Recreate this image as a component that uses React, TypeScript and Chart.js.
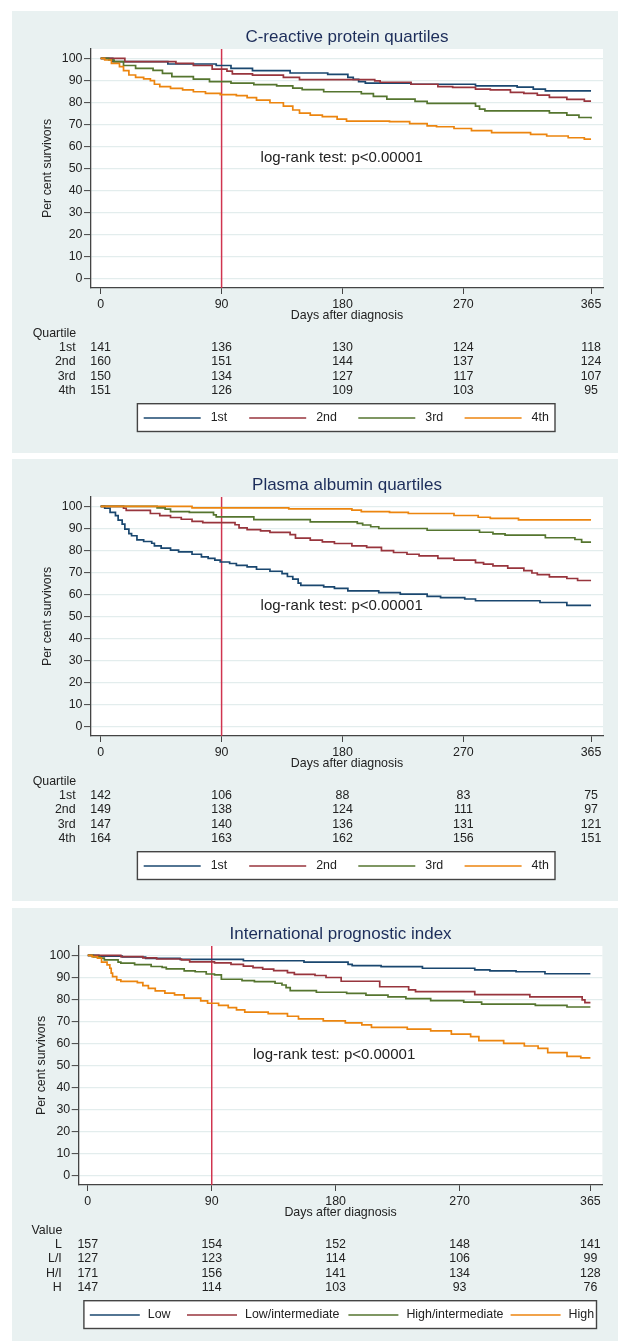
import { useEffect, useRef } from 'react';
import { Chart, registerables } from 'chart.js';

Chart.register(...registerables);

const FONT = '"Liberation Sans", Arimo, Arial, Helvetica, sans-serif';
const BG = '#e9f1f1';
const GRID = '#e3eded';
const AXIS = '#444444';
const TEXT = '#222222';
const TITLE = '#1c2d5a';
const REFLINE = '#d0344f';
const COLORS = ['#1a476f', '#98353d', '#55752f', '#ec850f'];

const xTicks = [0, 90, 180, 270, 365];
const yTicks = [0, 10, 20, 30, 40, 50, 60, 70, 80, 90, 100];
const refDay = 90;
const xTitle = 'Days after diagnosis';
const yTitle = 'Per cent survivors';
const testText = 'log-rank test: p<0.00001';
const testY = 55;

// ---------- Panel 1: C-reactive protein ----------
const crpTitle = 'C-reactive protein quartiles';
const crpHeader = 'Quartile';
const crpGroups = ['1st', '2nd', '3rd', '4th'];
const crpQ1 = [[0,100],[9,98.6],[50,97.5],[86,96.8],[97,95.5],[113,94.5],[141,93.4],[169,92.8],[184,91.4],[188,90.5],[192,89.5],[197,88.8],[231,88.3],[279,87.6],[310,87],[322,86.1],[331,85.3],[365,85.3]];
const crpQ2 = [[0,100],[18,98.6],[56,97.8],[69,96.8],[83,95.2],[94,94.3],[98,93],[113,92.4],[136,91.4],[148,90.4],[204,89.8],[208,89.2],[231,88.3],[251,87.2],[262,86.9],[279,86.1],[290,85.7],[305,84.6],[315,84.2],[325,83.4],[334,82.3],[347,81.4],[360,80.6],[365,80.6]];
const crpQ3 = [[0,100],[6,99.3],[10,98.6],[17,96.8],[26,95.5],[39,94.6],[46,93.2],[53,91.8],[69,90.6],[81,89.5],[97,88.8],[114,88.1],[131,87.6],[143,86.5],[150,85.9],[166,84.9],[194,84],[203,82.8],[213,81.5],[234,80.5],[243,79.6],[279,78.4],[282,77],[286,76.2],[334,75.3],[347,74.3],[356,73.2],[365,72.8]];
const crpQ4 = [[0,100],[3,99.3],[8,97.8],[14,96.3],[17,94.5],[21,92.5],[26,91.4],[32,90.7],[37,89.9],[40,88.3],[44,87.2],[52,86.4],[61,85.7],[69,84.9],[78,84.2],[89,83.6],[101,83.1],[109,82.2],[116,81.1],[126,79.9],[136,78.4],[143,76.6],[148,75.2],[156,74.3],[165,73.6],[176,72.5],[183,71.6],[215,71.3],[230,70.4],[243,69.4],[250,69],[263,68.2],[276,67.2],[291,66.3],[320,65.5],[332,64.8],[348,64],[360,63.4],[365,63.4]];
const crpRisk1st = [141, 136, 130, 124, 118];
const crpRisk2nd = [160, 151, 144, 137, 124];
const crpRisk3rd = [150, 134, 127, 117, 107];
const crpRisk4th = [151, 126, 109, 103, 95];

// ---------- Panel 2: Plasma albumin ----------
const albTitle = 'Plasma albumin quartiles';
const albHeader = 'Quartile';
const albGroups = ['1st', '2nd', '3rd', '4th'];
const albQ1 = [[0,100],[3,99.2],[7,97.3],[11,95.8],[13,93.8],[16,92],[18,89.7],[21,87.7],[23,86.7],[27,84.8],[32,84.1],[38,83.3],[40,82.1],[45,81.1],[52,80.2],[58,79.4],[68,78.3],[75,77.1],[80,76.4],[85,75.6],[89,74.8],[96,74.1],[101,73.3],[109,72.6],[116,71.5],[126,70.6],[135,69.5],[139,68.2],[143,67],[147,65.2],[149,64.2],[166,63.5],[174,62.8],[184,61.7],[207,60.9],[223,60.2],[243,59.2],[253,58.6],[271,58],[279,57.2],[327,56.4],[347,55.1],[365,55.1]];
const albQ2 = [[0,100],[17,99.2],[19,98.2],[37,96.8],[44,95.8],[52,95],[60,94.2],[68,93.2],[76,92.7],[100,91.7],[103,90.3],[109,89.5],[119,88.9],[126,88.2],[141,87.2],[145,85.6],[156,84.7],[165,83.9],[174,83.2],[187,82.1],[198,81.4],[209,80],[218,79.1],[228,78.3],[237,77.6],[251,76.4],[263,75.6],[279,74.5],[285,73.8],[292,73],[303,72],[315,70.9],[321,69.8],[325,69.1],[334,68],[347,67.3],[355,66.4],[365,66.4]];
const albQ3 = [[0,100],[42,99.4],[48,98.8],[52,97.7],[66,97.3],[84,96.2],[86,95.3],[114,94],[156,93],[191,92.3],[195,91.6],[201,90.8],[207,90],[243,89.2],[282,88.3],[292,87.6],[301,87],[331,85.8],[353,85],[358,83.8],[365,83.8]];
const albQ4 = [[0,100],[68,99.4],[140,98.9],[187,98.3],[194,97.7],[215,97.3],[229,96.8],[263,95.9],[281,95.1],[290,94.6],[311,93.9],[365,93.9]];
const albRisk1st = [142, 106, 88, 83, 75];
const albRisk2nd = [149, 138, 124, 111, 97];
const albRisk3rd = [147, 140, 136, 131, 121];
const albRisk4th = [164, 163, 162, 156, 151];

// ---------- Panel 3: International prognostic index ----------
const ipiTitle = 'International prognostic index';
const ipiHeader = 'Value';
const ipiRowLabels = ['L', 'L/I', 'H/I', 'H'];
const ipiGroups = ['Low', 'Low/intermediate', 'High/intermediate', 'High'];
const ipiLow = [[0,100],[8,99.7],[25,99.3],[42,98.7],[67,98.2],[113,97.6],[157,97],[189,96],[192,95.4],[213,94.9],[243,94.2],[281,93.5],[292,93],[311,92.6],[332,91.7],[365,91.7]];
const ipiLowInt = [[0,100],[24,99.5],[40,98.9],[50,98.4],[68,98],[74,97.1],[92,96.6],[104,96],[113,95.2],[120,94.5],[127,93.8],[135,93.1],[145,92.2],[150,91.4],[165,90.9],[173,90],[184,88.3],[212,85.8],[233,84.4],[238,83.6],[281,82.2],[321,81.2],[359,79.8],[361,78.6],[365,78.6]];
const ipiHighInt = [[0,100],[4,99.4],[9,98.8],[12,98],[22,97],[24,96.5],[34,95.8],[46,95],[54,94.6],[57,93.9],[70,93],[78,92.6],[86,91.6],[92,91.2],[97,89.2],[112,88.6],[121,88.1],[136,87.4],[141,86.6],[144,85.4],[147,84],[166,83.3],[188,82.8],[202,82],[218,81.2],[231,80.4],[249,79.5],[273,78.8],[286,77.9],[325,77.3],[348,76.6],[365,76.6]];
const ipiHigh = [[0,100],[3,99.5],[7,98.8],[10,97],[14,95.7],[16,94.2],[17,92],[18,90.4],[21,88.9],[24,88.2],[36,87.7],[40,86.3],[44,85.1],[49,83.9],[56,82.9],[63,82.1],[70,80.6],[82,79.4],[87,78.3],[95,77.3],[102,76.3],[108,75.3],[114,74.3],[131,73.6],[145,72.4],[153,71.2],[171,70.3],[187,69.4],[199,68.5],[206,67.4],[232,66.6],[249,65.8],[264,64.3],[278,63.2],[284,61.3],[302,60.1],[317,58.9],[327,57.8],[334,55.9],[348,54.2],[358,53.5],[365,53.5]];
const ipiRiskL = [157, 154, 152, 148, 141];
const ipiRiskLI = [127, 123, 114, 106, 99];
const ipiRiskHI = [171, 156, 141, 134, 128];
const ipiRiskH = [147, 114, 103, 93, 76];

type Panel = {
  title: string;
  header: string;
  rowLabels: string[];
  legendLabels: string[];
  series: number[][][];
  risk: number[][];
  top: number;
  height: number;
  xMin: number;
  xMax: number;
  yAxisWidth: number;
  padRight: number;
  yTitleX: number;
  headerLeft: number;
  rowLabelRight: number;
  legendBox: [number, number];
  legendStarts: number[];
  legendLine: number;
  legendTextGap: number;
  testX: number;
};

const panels: Panel[] = [
  {
    title: crpTitle, header: crpHeader, rowLabels: crpGroups, legendLabels: crpGroups,
    series: [crpQ1, crpQ2, crpQ3, crpQ4],
    risk: [crpRisk1st, crpRisk2nd, crpRisk3rd, crpRisk4th],
    top: 11, height: 442, xMin: -7.2, xMax: 373.9, yAxisWidth: 79, padRight: 15,
    yTitleX: 36, headerLeft: 20.7, rowLabelRight: 63.6,
    legendBox: [125.4, 543], legendStarts: [131.7, 237.2, 346.3, 452.6], legendLine: 57, legendTextGap: 67,
    testX: 119,
  },
  {
    title: albTitle, header: albHeader, rowLabels: albGroups, legendLabels: albGroups,
    series: [albQ1, albQ2, albQ3, albQ4],
    risk: [albRisk1st, albRisk2nd, albRisk3rd, albRisk4th],
    top: 459, height: 442, xMin: -7.2, xMax: 373.9, yAxisWidth: 79, padRight: 15,
    yTitleX: 36, headerLeft: 20.7, rowLabelRight: 63.6,
    legendBox: [125.4, 543], legendStarts: [131.7, 237.2, 346.3, 452.6], legendLine: 57, legendTextGap: 67,
    testX: 119,
  },
  {
    title: ipiTitle, header: ipiHeader, rowLabels: ipiRowLabels, legendLabels: ipiGroups,
    series: [ipiLow, ipiLowInt, ipiHighInt, ipiHigh],
    risk: [ipiRiskL, ipiRiskLI, ipiRiskHI, ipiRiskH],
    top: 908, height: 433, xMin: -6.6, xMax: 373.7, yAxisWidth: 66.7, padRight: 15.6,
    yTitleX: 30, headerLeft: 19.5, rowLabelRight: 49.8,
    legendBox: [71.9, 584.5], legendStarts: [77.8, 175, 336.4, 498.6], legendLine: 50, legendTextGap: 58,
    testX: 120,
  },
];

const CHART_TOP = 38;
const CHART_BOTTOM = 277;

function decor(p: Panel) {
  return {
    id: 'panelDecor',
    beforeDraw(chart: any) {
      const { ctx, chartArea: a, width, height } = chart;
      ctx.save();
      ctx.fillStyle = BG;
      ctx.fillRect(0, 0, width, height);
      ctx.fillStyle = '#ffffff';
      ctx.fillRect(a.left, a.top, a.right - a.left, a.bottom - a.top);
      ctx.restore();
    },
    beforeDatasetsDraw(chart: any) {
      const { ctx, chartArea: a } = chart;
      const x = chart.scales.x.getPixelForValue(refDay);
      ctx.save();
      ctx.strokeStyle = REFLINE;
      ctx.lineWidth = 1.5;
      ctx.beginPath();
      ctx.moveTo(x, a.top);
      ctx.lineTo(x, a.bottom);
      ctx.stroke();
      ctx.restore();
    },
    afterDraw(chart: any) {
      const { ctx, chartArea: a } = chart;
      const xs = chart.scales.x;
      const ys = chart.scales.y;
      const cx = (a.left + a.right) / 2;
      ctx.save();
      ctx.textBaseline = 'middle';

      ctx.font = `17px ${FONT}`;
      ctx.fillStyle = TITLE;
      ctx.textAlign = 'center';
      ctx.fillText(p.title, cx, 26);

      ctx.font = `12.4px ${FONT}`;
      ctx.fillStyle = TEXT;
      ctx.fillText(xTitle, cx, 305);

      ctx.save();
      ctx.translate(p.yTitleX, (a.top + a.bottom) / 2);
      ctx.rotate(-Math.PI / 2);
      ctx.fillText(yTitle, 0, 0);
      ctx.restore();

      ctx.font = `15px ${FONT}`;
      ctx.textAlign = 'left';
      ctx.fillText(testText, xs.getPixelForValue(p.testX), ys.getPixelForValue(testY));

      ctx.font = `12.4px ${FONT}`;
      ctx.textAlign = 'left';
      ctx.fillText(p.header, p.headerLeft, 322.3);
      p.rowLabels.forEach((lab, r) => {
        const y = 336.7 + r * 14.35;
        ctx.textAlign = 'right';
        ctx.fillText(lab, p.rowLabelRight, y);
        ctx.textAlign = 'center';
        p.risk[r].forEach((n, j) => {
          ctx.fillText(String(n), xs.getPixelForValue(xTicks[j]), y);
        });
      });

      const [bl, br] = p.legendBox;
      const bt = 392.7;
      const bb = 420.5;
      ctx.fillStyle = '#ffffff';
      ctx.fillRect(bl, bt, br - bl, bb - bt);
      ctx.strokeStyle = AXIS;
      ctx.lineWidth = 1.4;
      ctx.strokeRect(bl, bt, br - bl, bb - bt);
      const ly = 407;
      p.legendLabels.forEach((lab, i) => {
        const sx = p.legendStarts[i];
        ctx.strokeStyle = COLORS[i];
        ctx.lineWidth = 1.7;
        ctx.beginPath();
        ctx.moveTo(sx, ly);
        ctx.lineTo(sx + p.legendLine, ly);
        ctx.stroke();
        ctx.fillStyle = TEXT;
        ctx.textAlign = 'left';
        ctx.fillText(lab, sx + p.legendTextGap, ly);
      });
      ctx.restore();
    },
  };
}

function PanelChart({ p }: { p: Panel }) {
  const ref = useRef<HTMLCanvasElement | null>(null);
  useEffect(() => {
    const canvas = ref.current;
    if (!canvas) return;
    const n = p.series.length;
    const chart = new Chart(canvas, {
      type: 'line',
      data: {
        datasets: p.series.map((s, i) => ({
          label: p.legendLabels[i],
          data: s.map(([x, y]) => ({ x, y })),
          borderColor: COLORS[i],
          backgroundColor: COLORS[i],
          borderWidth: 1.7,
          pointRadius: 0,
          pointHoverRadius: 0,
          stepped: 'before',
          fill: false,
          order: n - 1 - i,
        })),
      },
      options: {
        responsive: false,
        maintainAspectRatio: false,
        animation: false,
        devicePixelRatio: 1,
        events: [],
        layout: { autoPadding: false, padding: { top: CHART_TOP, right: p.padRight, left: 0, bottom: 0 } },
        plugins: {
          legend: { display: false },
          tooltip: { enabled: false },
          title: { display: false },
        },
        scales: {
          x: {
            type: 'linear',
            min: p.xMin,
            max: p.xMax,
            afterBuildTicks: (s: any) => {
              s.ticks = xTicks.map((v) => ({ value: v }));
            },
            afterFit: (s: any) => {
              s.height = p.height - CHART_BOTTOM;
            },
            ticks: {
              autoSkip: false,
              maxRotation: 0,
              minRotation: 0,
              padding: 3,
              color: TEXT,
              font: { size: 12.4, family: FONT },
              callback: (v: any) => String(v),
            },
            grid: { drawOnChartArea: false, drawTicks: true, tickLength: 6, tickColor: AXIS, tickWidth: 1 },
            border: { display: true, color: AXIS, width: 1.3 },
          },
          y: {
            type: 'linear',
            min: -4.2,
            max: 104.3,
            afterBuildTicks: (s: any) => {
              s.ticks = yTicks.map((v) => ({ value: v }));
            },
            afterFit: (s: any) => {
              s.width = p.yAxisWidth;
            },
            ticks: {
              autoSkip: false,
              padding: 1.5,
              color: TEXT,
              font: { size: 12.4, family: FONT },
              callback: (v: any) => String(v),
            },
            grid: { color: GRID, lineWidth: 1.2, drawTicks: true, tickLength: 7, tickColor: AXIS, tickWidth: 1 },
            border: { display: true, color: AXIS, width: 1.3 },
          },
        },
      },
      plugins: [decor(p)],
    } as any);
    return () => chart.destroy();
  }, [p]);
  return (
    <canvas
      ref={ref}
      width={606}
      height={p.height}
      style={{ position: 'absolute', left: 12, top: p.top, width: 606, height: p.height, display: 'block' }}
    />
  );
}

export default function App() {
  useEffect(() => {
    document.body.style.margin = '0';
    document.body.style.background = '#ffffff';
  }, []);
  return (
    <div style={{ position: 'relative', width: 618, height: 1341, background: '#ffffff', overflow: 'hidden' }}>
      {panels.map((p, i) => (
        <PanelChart key={i} p={p} />
      ))}
    </div>
  );
}
